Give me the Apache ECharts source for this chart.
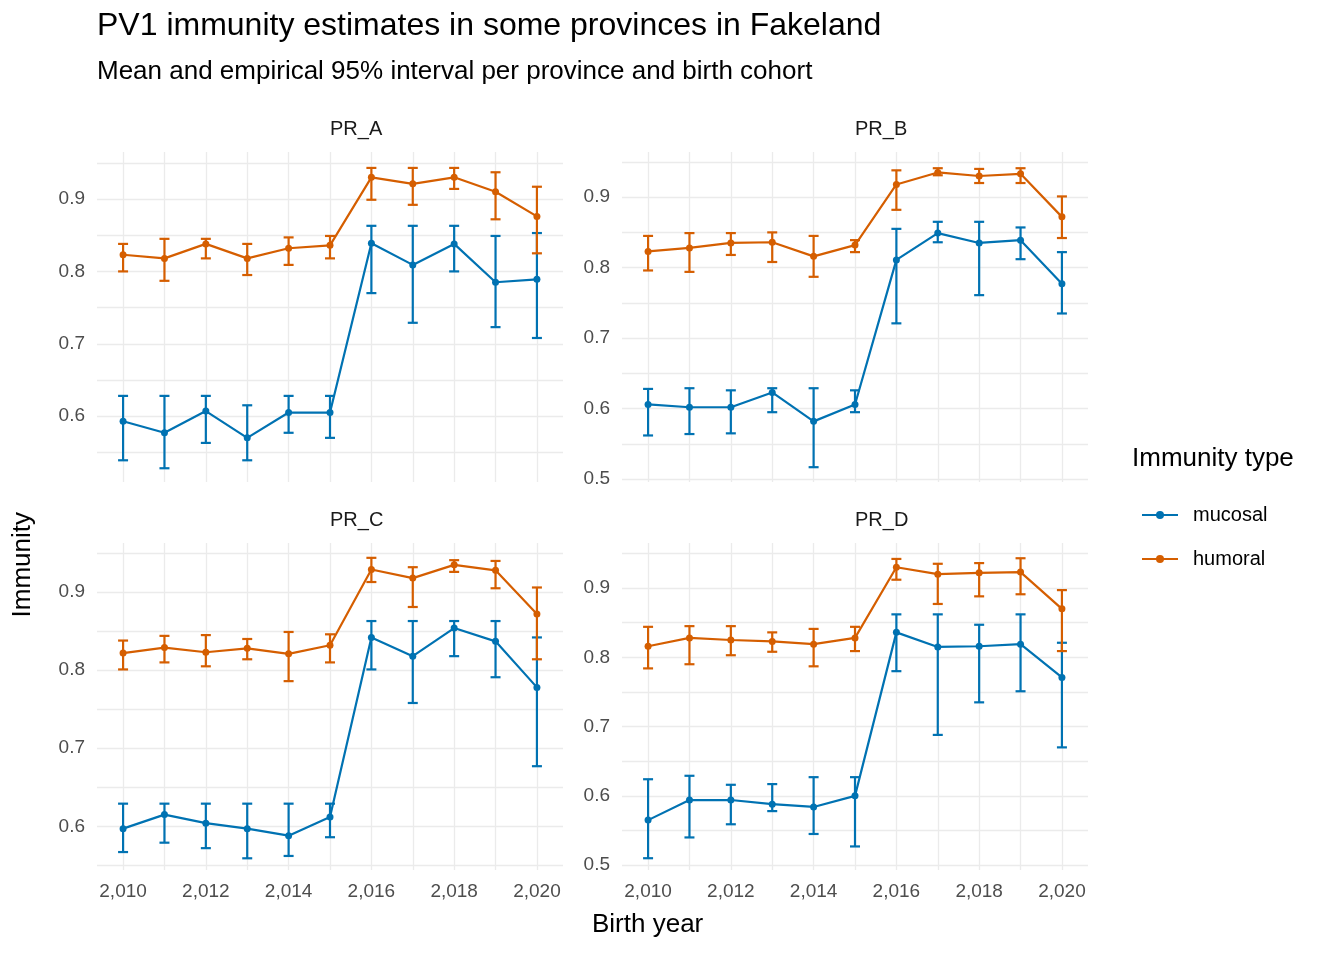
<!DOCTYPE html>
<html>
<head>
<meta charset="utf-8">
<script src="https://cdn.jsdelivr.net/npm/echarts@6/dist/echarts.min.js"></script>
<style>html,body{margin:0;background:#fff}#main{width:1344px;height:960px}</style>
</head>
<body>
<div id="main"></div>
<script>
var years = [2010,2011,2012,2013,2014,2015,2016,2017,2018,2019,2020];
var provinces = ['PR_A','PR_B','PR_C','PR_D'];

// mean, lower, upper per province
var mucA = [0.593,0.577,0.607,0.570,0.605,0.605,0.839,0.809,0.838,0.785,0.789];
var mucA_lo = [0.539,0.528,0.563,0.539,0.577,0.570,0.770,0.729,0.800,0.723,0.708];
var mucA_hi = [0.628,0.628,0.628,0.615,0.628,0.628,0.863,0.863,0.863,0.849,0.853];
var humA = [0.823,0.818,0.838,0.818,0.832,0.836,0.930,0.921,0.930,0.910,0.876];
var humA_lo = [0.800,0.787,0.818,0.795,0.809,0.818,0.899,0.892,0.914,0.872,0.825];
var humA_hi = [0.838,0.845,0.845,0.838,0.847,0.849,0.943,0.943,0.943,0.937,0.917];

var mucB = [0.606,0.602,0.602,0.623,0.582,0.606,0.811,0.849,0.835,0.839,0.777];
var mucB_lo = [0.562,0.564,0.565,0.595,0.517,0.595,0.721,0.836,0.761,0.812,0.735];
var mucB_hi = [0.628,0.629,0.626,0.629,0.629,0.626,0.855,0.865,0.865,0.857,0.822];
var humB = [0.823,0.828,0.835,0.836,0.816,0.832,0.918,0.935,0.930,0.933,0.872];
var humB_lo = [0.796,0.794,0.818,0.808,0.787,0.822,0.882,0.931,0.920,0.920,0.842];
var humB_hi = [0.845,0.849,0.849,0.850,0.845,0.839,0.938,0.941,0.940,0.941,0.901];

var mucC = [0.597,0.615,0.604,0.597,0.588,0.612,0.842,0.818,0.854,0.837,0.778];
var mucC_lo = [0.567,0.579,0.572,0.559,0.562,0.586,0.801,0.758,0.818,0.791,0.677];
var mucC_hi = [0.629,0.629,0.629,0.629,0.629,0.629,0.863,0.863,0.863,0.863,0.842];
var humC = [0.822,0.829,0.823,0.828,0.821,0.832,0.929,0.918,0.935,0.928,0.872];
var humC_lo = [0.801,0.810,0.805,0.814,0.786,0.810,0.913,0.881,0.926,0.905,0.814];
var humC_hi = [0.838,0.844,0.845,0.840,0.849,0.846,0.944,0.932,0.941,0.940,0.906];

var mucD = [0.565,0.594,0.594,0.588,0.584,0.600,0.836,0.815,0.816,0.819,0.771];
var mucD_lo = [0.510,0.540,0.559,0.578,0.545,0.527,0.780,0.688,0.735,0.751,0.670];
var mucD_hi = [0.624,0.629,0.616,0.617,0.627,0.627,0.862,0.862,0.847,0.862,0.821];
var humD = [0.816,0.828,0.825,0.823,0.819,0.828,0.930,0.920,0.922,0.923,0.870];
var humD_lo = [0.784,0.790,0.803,0.808,0.787,0.809,0.912,0.877,0.888,0.891,0.809];
var humD_hi = [0.844,0.845,0.845,0.836,0.841,0.844,0.942,0.935,0.936,0.943,0.897];

var xLabels = [2010,2012,2014,2016,2018,2020];
var yLabelsAC = [0.6,0.7,0.8,0.9];
var yLabelsBD = [0.5,0.6,0.7,0.8,0.9];

var panels = [
  {name:'PR_A', muc:[mucA,mucA_lo,mucA_hi], hum:[humA,humA_lo,humA_hi], left:97, top:152, h:330, ymin:0.509, ymax:0.965, yl:yLabelsAC, xlab:false},
  {name:'PR_B', muc:[mucB,mucB_lo,mucB_hi], hum:[humB,humB_lo,humB_hi], left:622, top:152, h:330, ymin:0.496, ymax:0.964, yl:yLabelsBD, xlab:false},
  {name:'PR_C', muc:[mucC,mucC_lo,mucC_hi], hum:[humC,humC_lo,humC_hi], left:97, top:543, h:327, ymin:0.544, ymax:0.963, yl:yLabelsAC, xlab:true},
  {name:'PR_D', muc:[mucD,mucD_lo,mucD_hi], hum:[humD,humD_lo,humD_hi], left:622, top:543, h:327, ymin:0.493, ymax:0.965, yl:yLabelsBD, xlab:true}
];
var colMuc = '#0072B2', colHum = '#D55E00';
var grid = [], xAxis = [], yAxis = [], series = [], graphic = [];

function halfSteps(lo, hi) {
  var out = [];
  for (var v = 0.45; v <= 1.0; v += 0.05) {
    var r = Math.round(v*100)/100;
    if (r >= lo && r <= hi) out.push(r);
  }
  return out;
}

panels.forEach(function(p, i) {
  grid.push({left:p.left, top:p.top, width:466, height:p.h});
  xAxis.push({
    type:'value', gridIndex:i, min:2009.37, max:2020.63,
    axisLine:{show:false}, axisTick:{show:false, customValues:years},
    splitLine:{show:true, lineStyle:{color:'#ebebeb', width:1.3}},
    axisLabel:{show:p.xlab, customValues:xLabels, color:'#4d4d4d', fontSize:19, margin:12, fontFamily:'Liberation Sans'}
  });
  yAxis.push({
    type:'value', gridIndex:i, min:p.ymin, max:p.ymax,
    axisLine:{show:false}, axisTick:{show:false, customValues:halfSteps(p.ymin, p.ymax)},
    splitLine:{show:true, lineStyle:{color:'#ebebeb', width:1.3}},
    axisLabel:{customValues:p.yl, color:'#4d4d4d', fontSize:19, margin:12, fontFamily:'Liberation Sans',
      formatter:function(v){return v.toFixed(1);}}
  });
  graphic.push({type:'text', left:p.left+233, top:p.top-33,
    style:{text:p.name, fontSize:20, fill:'#1a1a1a', textAlign:'center', fontFamily:'Liberation Sans'}});
  [['mucosal', p.muc, colMuc], ['humoral', p.hum, colHum]].forEach(function(s) {
    var mean = s[1][0], lo = s[1][1], hi = s[1][2];
    series.push({
      name:s[0], type:'line', xAxisIndex:i, yAxisIndex:i,
      data:years.map(function(y,k){return [y, mean[k]];}),
      symbol:'circle', symbolSize:7, lineStyle:{color:s[2], width:2.2},
      itemStyle:{color:s[2]}, z:3
    });
    series.push({
      name:s[0]+'_err', type:'custom', xAxisIndex:i, yAxisIndex:i,
      data:years.map(function(y,k){return [y, lo[k], hi[k]];}),
      renderItem:function(params, api) {
        var a = api.coord([api.value(0), api.value(1)]);
        var b = api.coord([api.value(0), api.value(2)]);
        var w = 5, st = {stroke:s[2], lineWidth:2.2};
        return {type:'group', children:[
          {type:'line', shape:{x1:a[0], y1:a[1], x2:b[0], y2:b[1]}, style:st},
          {type:'line', shape:{x1:a[0]-w, y1:a[1], x2:a[0]+w, y2:a[1]}, style:st},
          {type:'line', shape:{x1:b[0]-w, y1:b[1], x2:b[0]+w, y2:b[1]}, style:st}
        ]};
      }, z:2
    });
  });
});

graphic.push(
  {type:'text', left:97, top:10, style:{text:'PV1 immunity estimates in some provinces in Fakeland', fontSize:32, fill:'#000', fontFamily:'Liberation Sans'}},
  {type:'text', left:97, top:59, style:{text:'Mean and empirical 95% interval per province and birth cohort', fontSize:26, fill:'#000', fontFamily:'Liberation Sans'}},
  {type:'text', left:592, top:912, style:{text:'Birth year', fontSize:26, fill:'#000', textAlign:'center', fontFamily:'Liberation Sans'}},
  {type:'text', left:10, top:512, rotation:Math.PI/2, style:{text:'Immunity', fontSize:26, fill:'#000', textAlign:'center', textVerticalAlign:'top', fontFamily:'Liberation Sans'}},
  {type:'text', left:1132, top:446, style:{text:'Immunity type', fontSize:26, fill:'#000', fontFamily:'Liberation Sans'}}
);

var chart = echarts.init(document.getElementById('main'));
chart.setOption({
  animation:false,
  grid:grid, xAxis:xAxis, yAxis:yAxis, series:series, graphic:graphic,
  legend:{data:['mucosal','humoral'], orient:'vertical', left:1136, top:500, itemGap:24,
    itemWidth:36, itemHeight:10, textStyle:{fontSize:20, color:'#000', fontFamily:'Liberation Sans', padding:[0,0,0,10]}}
});
window.addEventListener('resize', function(){ chart.resize(); });
</script>
</body>
</html>
